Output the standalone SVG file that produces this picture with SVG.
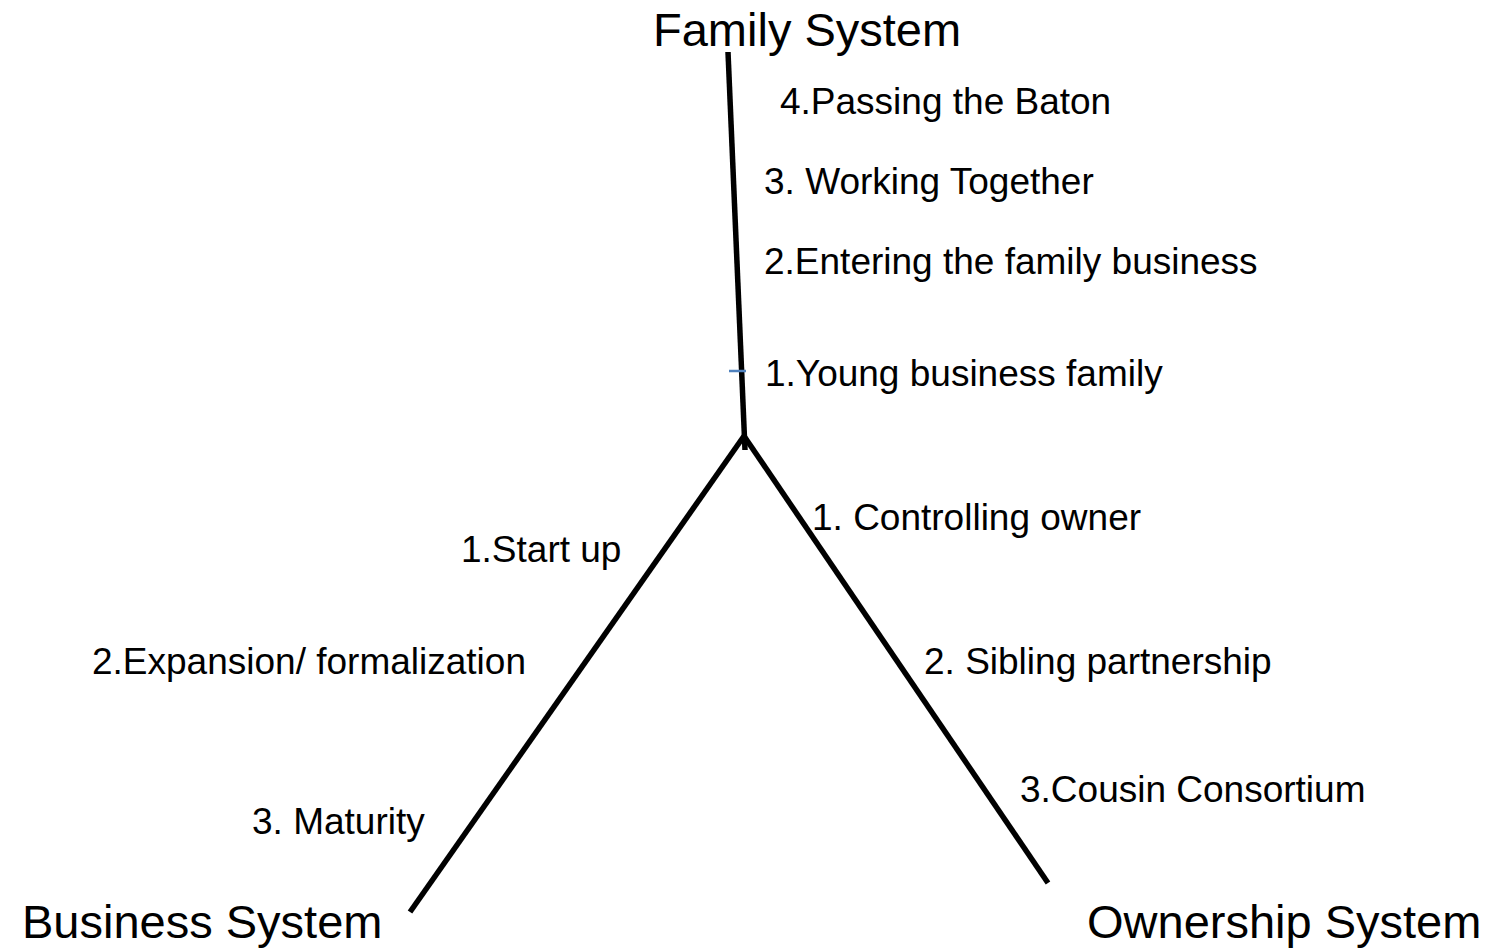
<svg xmlns="http://www.w3.org/2000/svg" width="1497" height="949" viewBox="0 0 1497 949">
<style>
.t{font-family:"Liberation Sans",Arial,sans-serif;fill:#000}
.title{font-size:47px}
.lab{font-size:37px}
.ln{stroke:#000;stroke-width:5.5;fill:none}
</style>
<rect width="1497" height="949" fill="#fff"/>
<g id="connectors">
<line class="ln" x1="728" y1="52" x2="745" y2="450"/>
<line class="ln" x1="744" y1="436" x2="410" y2="912"/>
<line class="ln" x1="744" y1="436" x2="1048" y2="883"/>
<line x1="729" y1="371" x2="746" y2="371" stroke="#4f81bd" stroke-width="2.5"/>
</g>
<g id="family-system"><text class="t title" x="653" y="46">Family System</text></g>
<g id="business-system"><text class="t title" x="22" y="938">Business System</text></g>
<g id="ownership-system"><text class="t title" x="1087" y="938">Ownership System</text></g>
<g id="f4"><text class="t lab" x="780" y="114">4.Passing the Baton</text></g>
<g id="f3"><text class="t lab" x="764" y="194">3. Working Together</text></g>
<g id="f2"><text class="t lab" x="764" y="274">2.Entering the family business</text></g>
<g id="f1"><text class="t lab" x="765" y="386">1.Young business family</text></g>
<g id="o1"><text class="t lab" x="812" y="530">1. Controlling owner</text></g>
<g id="b1"><text class="t lab" x="461" y="562">1.Start up</text></g>
<g id="b2"><text class="t lab" x="92" y="674">2.Expansion/ formalization</text></g>
<g id="o2"><text class="t lab" x="924" y="674">2. Sibling partnership</text></g>
<g id="o3"><text class="t lab" x="1020" y="802">3.Cousin Consortium</text></g>
<g id="b3"><text class="t lab" x="252" y="834">3. Maturity</text></g>
</svg>
